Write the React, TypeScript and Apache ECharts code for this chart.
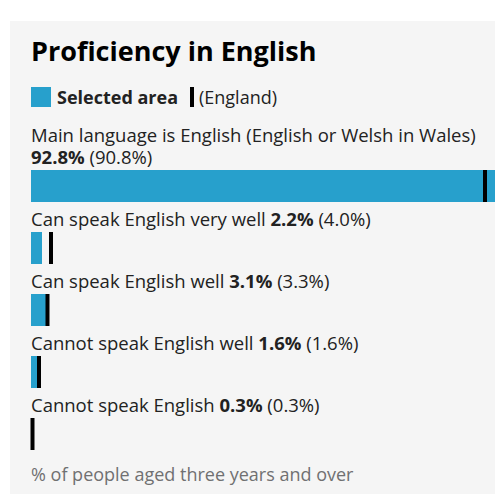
import React, { useEffect, useRef } from "react";
import * as echarts from "echarts";

const categories = [
  "Main language is English (English or Welsh in Wales)",
  "Can speak English very well",
  "Can speak English well",
  "Cannot speak English well",
  "Cannot speak English",
];
const areaValues = [92.8, 2.2, 3.1, 1.6, 0.3];
const englandValues = [90.8, 4.0, 3.3, 1.6, 0.3];
const titleText = "Proficiency in English";
const legendArea = "Selected area";
const legendEngland = "(England)";
const footnote = "% of people aged three years and over";

const BLUE = "#27a0cc";
const TEXT = "#222222";
const FONT = "'Open Sans', sans-serif";
const LABEL_SIZE = 18.5;

export default function App() {
  const ref = useRef<HTMLDivElement>(null);
  useEffect(() => {
    if (!ref.current) return;
    const chart = echarts.init(ref.current, undefined, { renderer: "svg" });
    const fmt = (v: number) => v.toFixed(1) + "%";
    chart.setOption({
      animation: false,
      backgroundColor: "#ffffff",
      textStyle: { fontFamily: FONT },
      graphic: [
        {
          type: "rect",
          z: -100,
          shape: { x: 10, y: 21, width: 485, height: 473 },
          style: { fill: "#f5f5f5" },
          silent: true,
        },
        {
          type: "text",
          x: 31,
          y: 50,
          style: {
            text: titleText,
            font: "bold 27px 'Open Sans', sans-serif",
            fill: "#000000",
            verticalAlign: "middle",
          },
        },
        {
          type: "rect",
          shape: { x: 31, y: 87, width: 20, height: 20 },
          style: { fill: BLUE },
        },
        {
          type: "text",
          x: 57,
          y: 97,
          style: {
            text: legendArea,
            font: "bold 18px 'Open Sans', sans-serif",
            fill: TEXT,
            verticalAlign: "middle",
          },
        },
        {
          type: "rect",
          shape: { x: 190, y: 87, width: 4, height: 20 },
          style: { fill: "#000000" },
        },
        {
          type: "text",
          x: 199,
          y: 97,
          style: {
            text: legendEngland,
            font: "18px 'Open Sans', sans-serif",
            fill: TEXT,
            verticalAlign: "middle",
          },
        },
        {
          type: "text",
          x: 31,
          y: 474,
          style: {
            text: footnote,
            font: "18px 'Open Sans', sans-serif",
            fill: "#707071",
            verticalAlign: "middle",
          },
        },
      ],
      grid: { left: 31, width: 500, top: 155, height: 310, outerBoundsMode: "none", containLabel: false },
      xAxis: { type: "value", min: 0, max: 100, show: false },
      yAxis: {
        type: "category",
        data: categories,
        inverse: true,
        show: false,
      },
      series: [
        {
          type: "bar",
          data: areaValues,
          barWidth: 32,
          itemStyle: { color: BLUE },
          label: {
            show: true,
            position: [0, -3],
            align: "left",
            verticalAlign: "bottom",
            fontFamily: FONT,
            fontSize: LABEL_SIZE,
            lineHeight: 22,
            color: TEXT,
            formatter: (p: any) => {
              const i = p.dataIndex;
              const v = "{b|" + fmt(areaValues[i]) + "}{t| (" + fmt(englandValues[i]) + ")}";
              return i === 0 ? "{t|" + categories[i] + "}\n" + v : "{t|" + categories[i] + " }" + v;
            },
            rich: {
              t: { fontFamily: FONT, fontSize: LABEL_SIZE, lineHeight: 22, color: TEXT },
              b: { fontFamily: FONT, fontSize: LABEL_SIZE, lineHeight: 22, color: TEXT, fontWeight: "bold" },
            },
          },
        },
        {
          type: "scatter",
          data: englandValues,
          symbol: "rect",
          symbolSize: [4, 32],
          itemStyle: { color: "#000000", opacity: 1 },
          z: 5,
        },
      ],
    });
    return () => chart.dispose();
  }, []);
  return (
    <div
      ref={ref}
      style={{ position: "fixed", left: 0, top: 0, width: 495, height: 494 }}
    />
  );
}
